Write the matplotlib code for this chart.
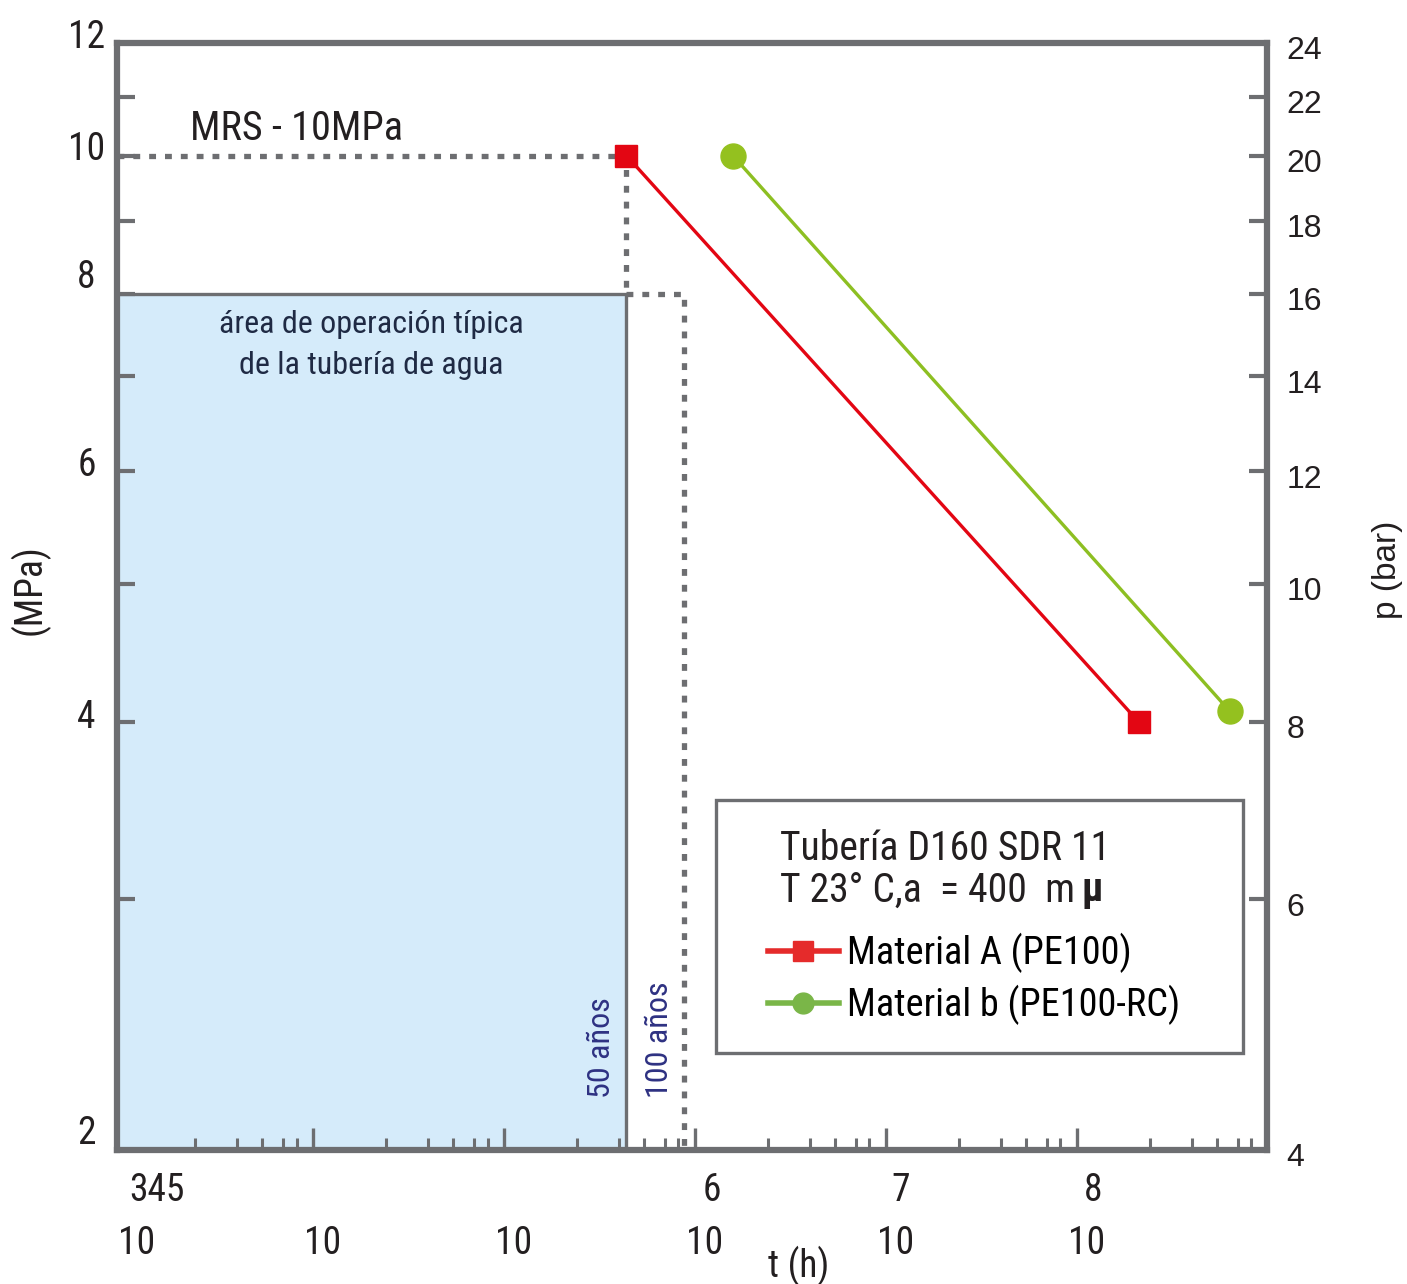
import numpy as np
import matplotlib.pyplot as plt
from matplotlib import font_manager
from matplotlib.lines import Line2D
from matplotlib.patches import Rectangle
from matplotlib.ticker import FixedLocator, FixedFormatter, NullFormatter
from matplotlib.transforms import ScaledTranslation, blended_transform_factory

# fonts: a narrow sans if there is one
names = {f.name for f in font_manager.fontManager.ttflist}
narrow = next((n for n in ["Liberation Sans Narrow", "Roboto Condensed", "Open Sans Condensed"]
               if n in names), "DejaVu Sans")
plt.rcParams["font.family"] = [narrow, "DejaVu Sans"]
plt.rcParams["font.stretch"] = "condensed"

# --- data ---
mpa_ticks = [2, 3, 4, 5, 6, 7, 8, 9, 10, 11, 12]
mpa_labels = ["2", "", "4", "", "6", "", "8", "", "10", "", "12"]
bar_ticks = [4, 6, 8, 10, 12, 14, 16, 18, 20, 22, 24]
decades = [1e3, 1e4, 1e5, 1e6, 1e7, 1e8]
exp_pos = [1e3, 1e6, 1e7, 1e8]
exp_text = ["345", "6", "7", "8"]
minor_mult = [2.4, 4, 5.4, 7, 8.2]

t_50 = 50 * 8760
t_100 = 100 * 8760
mrs = 10
op_stress = 8

mat_a_t = [4.38e5, 2.1e8]
mat_a_s = [10.0, 4.0]
mat_b_t = [1.58e6, 6.3e8]
mat_b_s = [10.0, 4.07]

gray = "#6d6e71"
red = "#e30613"
green = "#8dbf22"
navy = "#2e3182"
ink = "#231f20"

xmin, xmax = 10**2.974, 10**8.995

fig = plt.figure(figsize=(14.07, 12.84), dpi=100)
ax = fig.add_axes([117/1407, 1 - 1150/1284, 1150/1407, 1107/1284])
ax.set_xscale("log")
ax.set_yscale("log")
ax.set_xlim(xmin, xmax)
ax.set_ylim(2, 12)

# operating area
ax.fill_between([xmin, t_50], 2, op_stress, color="#d5ebfa", lw=0, zorder=0)
ax.plot([xmin, t_50, t_50], [op_stress, op_stress, 2], color=gray, lw=2.4, zorder=1)

dots = (0, (1.3, 1.7))
ax.plot([xmin, t_50, t_50], [mrs, mrs, op_stress], color=gray, lw=3.8, ls=dots, zorder=2)
ax.plot([t_50, t_100, t_100], [op_stress, op_stress, 2], color=gray, lw=3.8, ls=dots, zorder=2)

ax.plot(mat_a_t, mat_a_s, color=red, lw=2.4, marker="s", ms=16, zorder=4)
ax.plot(mat_b_t, mat_b_s, color=green, lw=2.4, marker="o", ms=18,
        mfc="#94c11f", mec="#94c11f", zorder=4)

# spines
for s in ax.spines.values():
    s.set_color(gray)
    s.set_linewidth(4.5)

# y ticks left
ax.yaxis.set_major_locator(FixedLocator(mpa_ticks))
ax.yaxis.set_major_formatter(FixedFormatter(mpa_labels))
ax.yaxis.set_minor_formatter(NullFormatter())
ax.yaxis.set_minor_locator(FixedLocator([]))
ax.tick_params(axis="y", which="major", direction="in", length=13, width=3, color=gray,
               pad=22, labelsize=27, labelcolor=ink, right=False)

# x ticks
ax.xaxis.set_major_locator(FixedLocator(decades))
ax.xaxis.set_major_formatter(FixedFormatter(["10"] * len(decades)))
minors = [d * m for d in decades for m in minor_mult]
ax.xaxis.set_minor_locator(FixedLocator(minors))
ax.xaxis.set_minor_formatter(NullFormatter())
ax.tick_params(axis="x", which="major", direction="in", length=16, width=2.4, color=gray,
               pad=67, labelsize=27, labelcolor=ink, top=False)
ax.tick_params(axis="x", which="minor", direction="in", length=8.5, width=2.2, color=gray, top=False)
ax.xaxis.get_major_ticks()[0].tick1line.set_visible(False)

# right axis in bar
ax2 = ax.twinx()
ax2.set_yscale("log")
ax2.set_ylim(4, 24)
ax2.yaxis.set_major_locator(FixedLocator(bar_ticks))
ax2.yaxis.set_major_formatter(FixedFormatter([str(v) for v in bar_ticks]))
ax2.yaxis.set_minor_locator(FixedLocator([]))
ax2.tick_params(axis="y", direction="in", length=13, width=3, color=gray, pad=14,
                labelsize=23, labelcolor=ink, labelfontfamily="Liberation Sans")
for s in ax2.spines.values():
    s.set_visible(False)

# label placement tweaks (inches up, per left label)
left_up = [0.20, 0, 0.08, 0, 0.10, 0, 0.20, 0, 0.10, 0, 0.10]
for lab, up in zip(ax.get_yticklabels(), left_up):
    lab.set_ha("center")
    lab.set_transform(lab.get_transform() + ScaledTranslation(0, up, fig.dpi_scale_trans))
for lab in ax2.get_yticklabels():
    lab.set_transform(lab.get_transform() + ScaledTranslation(0, -0.05, fig.dpi_scale_trans))
for i, lab in enumerate(ax.get_xticklabels()):
    lab.set_va("center")
    dx = 0.15 if i == 0 else 0.10
    lab.set_transform(lab.get_transform() + ScaledTranslation(dx, 0, fig.dpi_scale_trans))

bt = blended_transform_factory(ax.transData, ax.transAxes)
exp_dx = [0.35, 0.17, 0.15, 0.16]
for x, s, dx in zip(exp_pos, exp_text, exp_dx):
    ax.text(x, -0.037, s, transform=bt + ScaledTranslation(dx, 0, fig.dpi_scale_trans),
            ha="center", va="center", fontsize=27, color=ink)

# annotations
ax.text(0.0635, 0.923, "MRS - 10MPa", transform=ax.transAxes, ha="left", va="center",
        fontsize=29, color=ink)
ax.text(0.221, 0.727, "área de operación típica\nde la tubería de agua", transform=ax.transAxes,
        ha="center", va="center", fontsize=23, color="#1f2a44", linespacing=1.5)
ax.text(t_50, 0.047, "50 años", transform=bt + ScaledTranslation(-0.25, 0, fig.dpi_scale_trans),
        rotation=90, ha="center", va="bottom", fontsize=23, color=navy)
ax.text(t_100, 0.047, "100 años", transform=bt + ScaledTranslation(-0.24, 0, fig.dpi_scale_trans),
        rotation=90, ha="center", va="bottom", fontsize=23, color=navy)

ax.text(-0.0757, 0.506, "(MPa)", transform=ax.transAxes, rotation=90, ha="center", va="center",
        fontsize=27, color=ink)
ax.text(1.105, 0.524, "p (bar)", transform=ax.transAxes, rotation=90, ha="center", va="center",
        fontsize=24, color=ink, family="Liberation Sans")
ax.text(0.593, -0.105, "t (h)", transform=ax.transAxes, ha="center", va="center",
        fontsize=27, color=ink)

# legend box
ax.add_patch(Rectangle((0.521, 0.0876), 0.458, 0.2284, transform=ax.transAxes,
                       facecolor="white", edgecolor=gray, lw=2.4, zorder=5))
ax.text(0.5765, 0.2728, "Tubería D160 SDR 11", transform=ax.transAxes, ha="left", va="center",
        fontsize=28.5, color=ink, zorder=6)
ax.text(0.5765, 0.2349, "T 23° C,a  = 400  m", transform=ax.transAxes, ha="left", va="center",
        fontsize=28.5, color=ink, zorder=6)
ax.text(0.839, 0.2349, "μ", transform=ax.transAxes, ha="left", va="center",
        fontsize=28.5, color=ink, fontweight="bold", zorder=6)
handles = [Line2D([], [], color="#e52b2b", lw=4, marker="s", ms=15),
           Line2D([], [], color="#7ab648", lw=4, marker="o", ms=15)]
leg = ax.legend(handles, ["Material A (PE100)", "Material b (PE100-RC)"],
                loc="center left", bbox_to_anchor=(0.566, 0.1545), frameon=False,
                borderpad=0, borderaxespad=0, handlelength=1.85, handletextpad=0.22,
                labelspacing=0.3, fontsize=27.5)
leg.set_zorder(7)

fig.savefig("out.png", dpi=100)
